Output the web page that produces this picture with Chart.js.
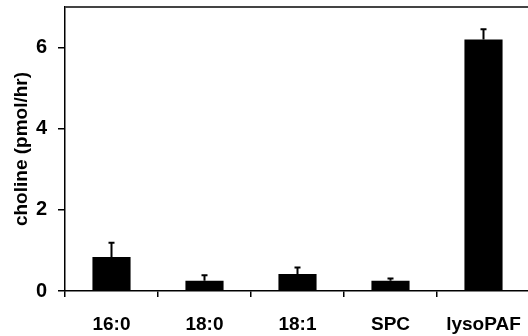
<!DOCTYPE html>
<html><head><meta charset="utf-8">
<script src="https://cdn.jsdelivr.net/npm/chart.js@4.4.0/dist/chart.umd.min.js"></script>
<style>html,body{margin:0;padding:0;overflow:hidden;background:#fff;width:528px;height:336px}canvas{display:block}</style>
</head><body>
<canvas id="c" width="540" height="336"></canvas>
<script>
const categories = ["16:0", "18:0", "18:1", "SPC", "lysoPAF"];
const values = [0.84, 0.25, 0.42, 0.25, 6.2];
const errors = [0.35, 0.14, 0.16, 0.06, 0.25];
const yTicks = [0, 2, 4, 6];
const yTitle = "choline (pmol/hr)";

const FONT = "'Liberation Sans', Arial, sans-serif";

const errorBars = {
  id: 'errorBars',
  afterDatasetsDraw(chart) {
    const ctx = chart.ctx, y = chart.scales.y;
    const meta = chart.getDatasetMeta(0);
    ctx.save();
    ctx.strokeStyle = '#000';
    ctx.lineWidth = 2;
    meta.data.forEach((bar, i) => {
      const x = bar.x;
      const y0 = y.getPixelForValue(values[i]);
      const y1 = y.getPixelForValue(values[i] + errors[i]);
      ctx.beginPath();
      ctx.moveTo(x, y0); ctx.lineTo(x, y1);
      ctx.moveTo(x - 3, y1); ctx.lineTo(x + 3, y1);
      ctx.stroke();
    });
    ctx.restore();
  }
};
const topLine = {
  id: 'topLine',
  afterDraw(chart) {
    const ctx = chart.ctx, a = chart.chartArea;
    ctx.save();
    ctx.strokeStyle = '#444';
    ctx.lineWidth = 2;
    ctx.beginPath();
    ctx.moveTo(a.left, a.top); ctx.lineTo(chart.width, a.top);
    ctx.stroke();
    ctx.restore();
  }
};

new Chart(document.getElementById('c'), {
  type: 'bar',
  data: {
    labels: categories,
    datasets: [{ data: values, backgroundColor: '#000', borderWidth: 0,
      barPercentage: 0.41, categoryPercentage: 1.0 }]
  },
  options: {
    responsive: false, animation: false,
    layout: { padding: { top: 7, right: 10, left: 0, bottom: 0 } },
    plugins: { legend: { display: false }, tooltip: { enabled: false } },
    scales: {
      x: {
        grid: { drawOnChartArea: false, tickLength: 6, color: '#000', lineWidth: 1.5, offset: true },
        border: { color: '#000', width: 1.5 },
        ticks: { color: '#000', font: { family: FONT, size: 19, weight: 'bold' }, padding: 16, maxRotation: 0 },
        afterFit(s) { s.height = 45; s.paddingLeft = 0; s.paddingRight = 0; }
      },
      y: {
        min: 0, max: 7,
        afterBuildTicks(s) { s.ticks = yTicks.map(v => ({ value: v })); },
        grid: { drawOnChartArea: false, tickLength: 7, color: '#000', lineWidth: 1.5 },
        border: { color: '#000', width: 1.5 },
        ticks: { color: '#000', font: { family: FONT, size: 20, weight: 'bold' }, padding: 11 },
        title: { display: true, text: yTitle, color: '#000',
          font: { family: FONT, size: 19, weight: 'bold' }, padding: { top: 10, bottom: 0 } },
        afterFit(s) { s.width = 65; s.paddingTop = 0; s.paddingBottom = 0; }
      }
    }
  },
  plugins: [errorBars, topLine]
});
</script>
</body></html>
